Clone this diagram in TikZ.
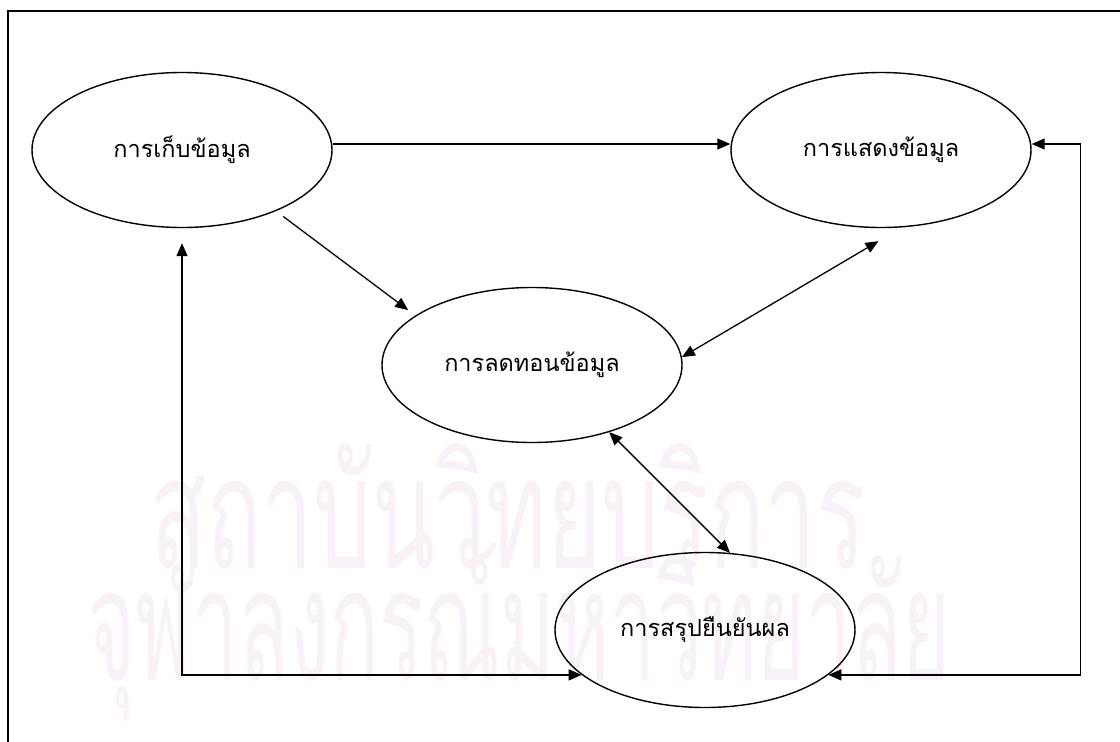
\documentclass[tikz,border=0pt]{standalone}
\usepackage{fontspec}
\newfontfamily\thaifont[Script=Thai]{Loma}
\usetikzlibrary{arrows.meta,positioning,shapes}

\begin{document}
\begin{tikzpicture}[x=1pt,y=-1pt,
    proc/.style={ellipse,draw,line width=1.4pt,minimum width=300pt,
        minimum height=155pt,inner sep=0pt,
        font=\thaifont\fontsize{23.5}{28}\selectfont},
    link/.style={line width=1.3pt,>={Triangle[length=13pt,width=11pt]}},
    wmtext/.style={text=wmark,anchor=base,inner sep=0pt,
        font=\thaifont\fontsize{156}{160}\selectfont}]

    \definecolor{wmark}{RGB}{249,241,248}
    \useasboundingbox (0,0) rectangle (1120,742);

    % watermark
    \node[wmtext,xscale=0.59] (w1) at (508,568) {สถาบันวิทยบริการ};
    \node[wmtext,xscale=0.53] (w2) at (519,680) {จุฬาลงกรณ์มหาวิทยาลัย};

    % frame
    \draw[line width=2pt] (7.5,742) -- (7.5,11) -- (1120,11);

    % the texts
    \node[proc] (keep) at (182,150) {การเก็บข้อมูล};
    \node[proc] (show) at (881,150) {การแสดงข้อมูล};
    \node[proc] (cut) at (532,365) {การลดทอนข้อมูล};
    \node[proc] (sum) at (705,630) {การสรุปยืนยันผล};

    % the arrows
    \draw[link,->] ([yshift=6pt]keep.east) -- ([yshift=6pt]show.west);
    \draw[link,->,shorten <=9pt,shorten >=9pt] (keep.-33) -- (cut.157);
    \draw[link,<->,shorten >=27pt] (cut.3) -- (show.-75);
    \draw[link,<->] (cut.-41) -- (sum.72);
    \draw[link,<->,shorten <=15pt] (keep.south) |- (sum.-160);
    \draw[link,<->] ([yshift=6pt]show.east) -- ++(49,0) |- (sum.-20);

\end{tikzpicture}
\end{document}
